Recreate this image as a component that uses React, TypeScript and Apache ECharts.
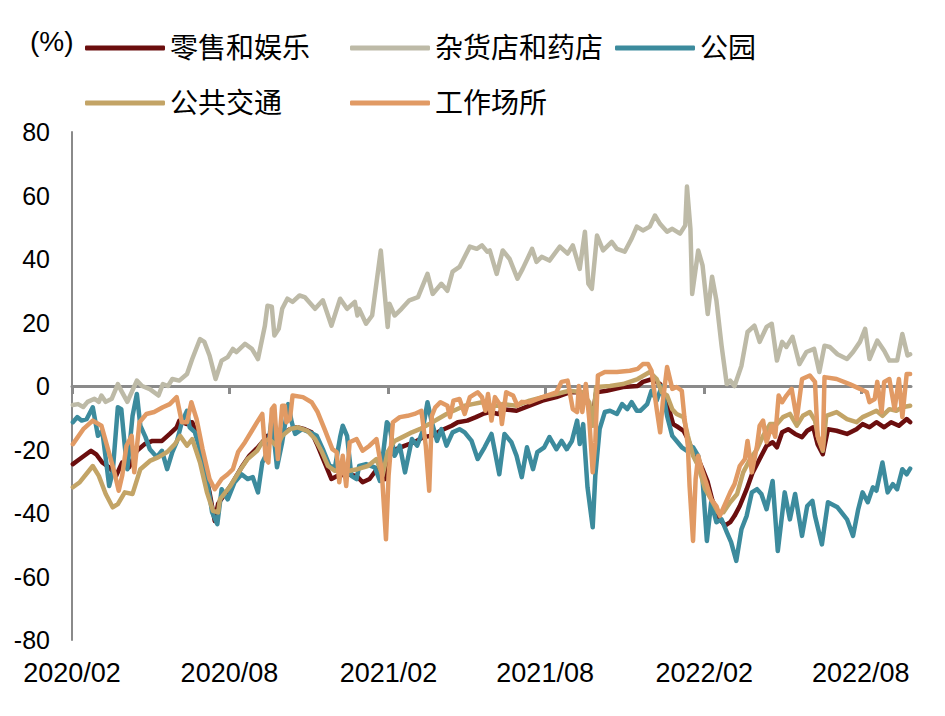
import { useEffect, useRef } from 'react';
import * as echarts from 'echarts';

const seriesNames = ['零售和娱乐', '杂货店和药店', '公园', '公共交通', '工作场所'];
const seriesColors = ['#6B0E0E', '#BDBAA7', '#3C8B9D', '#C3A466', '#E19A64'];
const xTickDates = ['2020-02-15', '2020-08-15', '2021-02-15', '2021-08-15', '2022-02-15', '2022-08-15'];
const xMin = '2020-02-15';
const xMax = '2022-10-12';
const yMin = -80;
const yMax = 80;
const yStep = 20;

const retail: [string, number][] = [
  ['2020-02-16', -24.6], ['2020-02-24', -23], ['2020-03-08', -20.4], ['2020-03-14', -21.5], ['2020-03-21', -24.1],
  ['2020-03-29', -25.6], ['2020-04-06', -28.3], ['2020-04-13', -24.1], ['2020-04-21', -25.6], ['2020-04-30', -20.4],
  ['2020-05-09', -18.3], ['2020-05-18', -17.3], ['2020-05-29', -17.3], ['2020-06-07', -15.1], ['2020-06-15', -13],
  ['2020-06-18', -11], ['2020-06-27', -12], ['2020-07-03', -11.4], ['2020-07-09', -15.7], ['2020-07-15', -24.1],
  ['2020-07-23', -33.5], ['2020-07-29', -42.5], ['2020-08-02', -37], ['2020-08-10', -34], ['2020-08-19', -30.3],
  ['2020-08-29', -25.6], ['2020-09-07', -22], ['2020-09-17', -19.3], ['2020-09-22', -17.7], ['2020-09-28', -15.7],
  ['2020-10-06', -16.7], ['2020-10-15', -15.1], ['2020-10-24', -13.6], ['2020-11-01', -13], ['2020-11-10', -13.6],
  ['2020-11-18', -14.6], ['2020-11-25', -18.8], ['2020-12-03', -24.1], ['2020-12-11', -29.3], ['2020-12-18', -28.3],
  ['2020-12-29', -27.8], ['2021-01-09', -28.3], ['2021-01-16', -30.3], ['2021-01-24', -29.3], ['2021-02-03', -25.6],
  ['2021-02-11', -29.3], ['2021-02-16', -22], ['2021-02-24', -19.9], ['2021-03-06', -18.8], ['2021-03-17', -17.7],
  ['2021-03-27', -16.1], ['2021-04-06', -15.7], ['2021-04-16', -14.1], ['2021-04-29', -12.5], ['2021-05-06', -11.4],
  ['2021-05-17', -10.9], ['2021-05-27', -9.8], ['2021-06-04', -8.8], ['2021-06-12', -8.2], ['2021-06-22', -8.8],
  ['2021-06-27', -7.3], ['2021-07-13', -7.8], ['2021-07-28', -6.2], ['2021-08-12', -4.6], ['2021-08-28', -3.5],
  ['2021-09-12', -2], ['2021-09-21', -2], ['2021-09-27', -3], ['2021-10-05', -6.2], ['2021-10-09', -9.4],
  ['2021-10-13', -2], ['2021-10-25', -1.5], ['2021-11-13', -0.3], ['2021-11-30', 0], ['2021-12-06', 1.3],
  ['2021-12-17', 2.2], ['2021-12-26', 0.6], ['2022-01-03', -5.1], ['2022-01-10', -12], ['2022-01-16', -13],
  ['2022-01-22', -14.1], ['2022-01-27', -16.7], ['2022-02-02', -20.8], ['2022-02-08', -23], ['2022-02-13', -26.2],
  ['2022-02-19', -30.3], ['2022-02-24', -35.7], ['2022-03-05', -42], ['2022-03-11', -44], ['2022-03-17', -42.9],
  ['2022-03-22', -40.9], ['2022-03-28', -37.8], ['2022-04-05', -32.5], ['2022-04-12', -27.2], ['2022-04-20', -23],
  ['2022-04-28', -18.8], ['2022-05-05', -17.7], ['2022-05-10', -19.3], ['2022-05-16', -14.6], ['2022-05-23', -13.6],
  ['2022-05-31', -15.1], ['2022-06-08', -16.1], ['2022-06-14', -14.1], ['2022-06-21', -13], ['2022-06-26', -18.3],
  ['2022-07-02', -21.5], ['2022-07-08', -13.6], ['2022-07-18', -14.1], ['2022-07-30', -15.1], ['2022-08-10', -13.6],
  ['2022-08-17', -12], ['2022-08-25', -13], ['2022-09-02', -11.4], ['2022-09-11', -13], ['2022-09-19', -11.4],
  ['2022-09-28', -12.5], ['2022-10-07', -10.4], ['2022-10-11', -11.4],
];

const grocery: [string, number][] = [
  ['2020-02-16', -6], ['2020-02-22', -5.7], ['2020-02-28', -6.6], ['2020-03-04', -5], ['2020-03-12', -4],
  ['2020-03-17', -5], ['2020-03-20', -3], ['2020-03-25', -5], ['2020-04-01', -4], ['2020-04-08', 0.6],
  ['2020-04-13', -2], ['2020-04-19', -5], ['2020-04-30', 1.7], ['2020-05-06', 0], ['2020-05-15', -1],
  ['2020-05-25', -3], ['2020-05-30', 0.6], ['2020-06-05', 0], ['2020-06-10', 2.2], ['2020-06-18', 1.7],
  ['2020-06-27', 3.8], ['2020-07-03', 8.5], ['2020-07-12', 14.8], ['2020-07-17', 13.9], ['2020-07-23', 9.6],
  ['2020-07-30', 2.2], ['2020-08-06', 8], ['2020-08-13', 9.1], ['2020-08-19', 11.7], ['2020-08-23', 10.7],
  ['2020-09-02', 13.3], ['2020-09-10', 11.7], ['2020-09-17', 8.5], ['2020-09-25', 19], ['2020-09-28', 25.3],
  ['2020-10-03', 25], ['2020-10-06', 15.9], ['2020-10-11', 18], ['2020-10-15', 24.3], ['2020-10-21', 27.5],
  ['2020-10-27', 26.5], ['2020-11-04', 28.5], ['2020-11-10', 28], ['2020-11-22', 24.3], ['2020-12-01', 27],
  ['2020-12-11', 19], ['2020-12-21', 27.5], ['2020-12-29', 24.3], ['2021-01-07', 26.5], ['2021-01-10', 22.2],
  ['2021-01-12', 24.3], ['2021-01-20', 19.6], ['2021-01-27', 22.2], ['2021-02-06', 42.7], ['2021-02-14', 18.6],
  ['2021-02-16', 25.9], ['2021-02-22', 22.2], ['2021-03-02', 24.3], ['2021-03-11', 27], ['2021-03-21', 28],
  ['2021-04-01', 35.3], ['2021-04-07', 29], ['2021-04-17', 32.2], ['2021-04-24', 30], ['2021-04-30', 36],
  ['2021-05-08', 37.5], ['2021-05-20', 43.9], ['2021-05-28', 43.2], ['2021-06-03', 44.3], ['2021-06-09', 42.3],
  ['2021-06-12', 42.7], ['2021-06-20', 35.3], ['2021-06-27', 42.7], ['2021-07-05', 40], ['2021-07-14', 33.8],
  ['2021-07-20', 36.9], ['2021-07-31', 43.2], ['2021-08-05', 39.1], ['2021-08-11', 40.7], ['2021-08-20', 39.5],
  ['2021-09-01', 43.9], ['2021-09-10', 41.7], ['2021-09-16', 44.3], ['2021-09-24', 36.9], ['2021-09-30', 48.6],
  ['2021-10-04', 32.2], ['2021-10-08', 30.6], ['2021-10-14', 47.4], ['2021-10-21', 42.7], ['2021-10-31', 45.4],
  ['2021-11-06', 43.2], ['2021-11-15', 42.3], ['2021-11-23', 46.4], ['2021-11-29', 50.2], ['2021-12-06', 49],
  ['2021-12-14', 50.2], ['2021-12-20', 53.7], ['2021-12-26', 51], ['2022-01-03', 48.6], ['2022-01-09', 49.5],
  ['2022-01-18', 48], ['2022-01-24', 50.6], ['2022-01-26', 62.8], ['2022-01-30', 49.5], ['2022-02-01', 29],
  ['2022-02-08', 42.7], ['2022-02-13', 38], ['2022-02-19', 22.7], ['2022-02-24', 34.4], ['2022-03-01', 27],
  ['2022-03-07', 12.7], ['2022-03-13', 0.6], ['2022-03-17', 1.7], ['2022-03-22', 0], ['2022-03-30', 6.4],
  ['2022-04-06', 17], ['2022-04-14', 19], ['2022-04-20', 13.9], ['2022-04-28', 18.6], ['2022-05-04', 19.6],
  ['2022-05-10', 8], ['2022-05-16', 13.9], ['2022-05-21', 12.3], ['2022-05-28', 15.5], ['2022-06-05', 6.9],
  ['2022-06-13', 10.7], ['2022-06-22', 11.7], ['2022-06-28', 4.4], ['2022-07-04', 12.7], ['2022-07-10', 12.3],
  ['2022-07-19', 10], ['2022-07-30', 8.5], ['2022-08-06', 10.7], ['2022-08-14', 13.9], ['2022-08-20', 18],
  ['2022-08-25', 8.5], ['2022-09-03', 14.3], ['2022-09-11', 11.1], ['2022-09-17', 8], ['2022-09-26', 8],
  ['2022-10-02', 16.4], ['2022-10-08', 9.6], ['2022-10-11', 10],
];

const parks: [string, number][] = [
  ['2020-02-16', -11.4], ['2020-02-21', -9.8], ['2020-02-26', -10.9], ['2020-03-03', -10.4], ['2020-03-10', -6.7],
  ['2020-03-16', -15.7], ['2020-03-21', -14.1], ['2020-03-29', -31.5], ['2020-04-02', -27.2], ['2020-04-08', -6.7],
  ['2020-04-12', -7.3], ['2020-04-16', -18.8], ['2020-04-19', -26.2], ['2020-04-25', -9.4], ['2020-04-30', -2.5],
  ['2020-05-04', -12.5], ['2020-05-10', -16.1], ['2020-05-15', -19.9], ['2020-05-23', -22.4], ['2020-05-29', -20.4],
  ['2020-06-04', -26.2], ['2020-06-10', -20.8], ['2020-06-15', -17.7], ['2020-06-21', -11.4], ['2020-06-27', -7.8],
  ['2020-06-30', -13], ['2020-07-06', -14.5], ['2020-07-14', -22], ['2020-07-20', -29.3], ['2020-07-26', -39.8],
  ['2020-08-01', -43.5], ['2020-08-06', -32.5], ['2020-08-13', -35.7], ['2020-08-21', -30.3], ['2020-08-29', -27.8],
  ['2020-09-05', -29.3], ['2020-09-11', -28.7], ['2020-09-17', -33.5], ['2020-09-22', -24.1], ['2020-09-28', -20.8],
  ['2020-10-03', -9.9], ['2020-10-09', -25.6], ['2020-10-15', -17.7], ['2020-10-22', -5.7], ['2020-10-26', -11.4],
  ['2020-10-30', -15.1], ['2020-11-07', -13.6], ['2020-11-16', -14.6], ['2020-11-24', -15.7], ['2020-12-01', -19.9],
  ['2020-12-09', -25.2], ['2020-12-15', -25.6], ['2020-12-21', -16.1], ['2020-12-24', -12.5], ['2020-12-29', -15.7],
  ['2021-01-03', -28.3], ['2021-01-09', -29.3], ['2021-01-12', -25.2], ['2021-01-20', -24.6], ['2021-01-30', -25.6],
  ['2021-02-05', -29.9], ['2021-02-13', -11.4], ['2021-02-16', -12.5], ['2021-02-22', -22], ['2021-02-28', -18.8],
  ['2021-03-06', -27.2], ['2021-03-14', -16.7], ['2021-03-20', -18.8], ['2021-03-26', -14.5], ['2021-04-01', -5.1],
  ['2021-04-06', -11.4], ['2021-04-12', -17.3], ['2021-04-17', -13.6], ['2021-04-23', -18.8], ['2021-04-30', -14.6],
  ['2021-05-08', -13.6], ['2021-05-14', -14.6], ['2021-05-22', -17.3], ['2021-05-29', -23], ['2021-06-06', -19.3],
  ['2021-06-14', -15.1], ['2021-06-23', -27.8], ['2021-06-29', -15.1], ['2021-07-07', -17.7], ['2021-07-13', -22],
  ['2021-07-19', -28.7], ['2021-07-25', -19.3], ['2021-08-01', -26.2], ['2021-08-06', -20.8], ['2021-08-14', -19.3],
  ['2021-08-20', -16.1], ['2021-08-28', -19.9], ['2021-09-03', -17.3], ['2021-09-09', -19.9], ['2021-09-15', -17.3],
  ['2021-09-21', -10.9], ['2021-09-24', -18.3], ['2021-09-28', -12], ['2021-10-03', -31.9], ['2021-10-09', -44.5],
  ['2021-10-12', -28.3], ['2021-10-17', -13.6], ['2021-10-23', -8.2], ['2021-10-29', -7.8], ['2021-11-06', -8.8],
  ['2021-11-12', -5.7], ['2021-11-18', -7.3], ['2021-11-23', -5.1], ['2021-11-29', -7.8], ['2021-12-03', -7.8],
  ['2021-12-11', -5.7], ['2021-12-16', -1.5], ['2021-12-22', -4.6], ['2021-12-28', 0], ['2022-01-03', -9.4],
  ['2022-01-09', -15.7], ['2022-01-14', -17.3], ['2022-01-20', -19.3], ['2022-01-26', -20.4], ['2022-02-02', -19.3],
  ['2022-02-08', -22], ['2022-02-13', -29.3], ['2022-02-18', -48.8], ['2022-02-23', -36.6], ['2022-03-01', -42.9],
  ['2022-03-07', -42], ['2022-03-13', -46], ['2022-03-18', -49.2], ['2022-03-24', -55.1], ['2022-03-30', -45.1],
  ['2022-04-05', -40.9], ['2022-04-11', -33.5], ['2022-04-17', -32.5], ['2022-04-22', -34], ['2022-04-28', -38.8],
  ['2022-05-05', -29.9], ['2022-05-11', -52], ['2022-05-19', -33.5], ['2022-05-25', -42], ['2022-05-31', -34],
  ['2022-06-08', -47.2], ['2022-06-14', -37.8], ['2022-06-20', -36.2], ['2022-06-23', -40.9], ['2022-07-01', -49.9],
  ['2022-07-08', -36.6], ['2022-07-19', -38.2], ['2022-07-30', -42], ['2022-08-06', -47.2], ['2022-08-12', -38.8],
  ['2022-08-17', -33.5], ['2022-08-23', -36.6], ['2022-08-29', -31.9], ['2022-09-02', -33], ['2022-09-09', -24.1],
  ['2022-09-15', -33.5], ['2022-09-21', -30.9], ['2022-09-26', -32.5], ['2022-10-02', -26.2], ['2022-10-07', -27.8],
  ['2022-10-11', -26],
];

const transit: [string, number][] = [
  ['2020-02-16', -31.9], ['2020-02-24', -30.3], ['2020-03-10', -25.2], ['2020-03-17', -28.3], ['2020-03-25', -34],
  ['2020-04-02', -38.2], ['2020-04-08', -37.2], ['2020-04-16', -33.5], ['2020-04-25', -34], ['2020-05-04', -26.2],
  ['2020-05-15', -23.6], ['2020-05-25', -22.4], ['2020-06-04', -20.8], ['2020-06-13', -18.3], ['2020-06-19', -15.7],
  ['2020-06-27', -18.8], ['2020-07-03', -16.7], ['2020-07-12', -24.1], ['2020-07-20', -33.5], ['2020-07-27', -39.3],
  ['2020-08-02', -39.8], ['2020-08-04', -35.7], ['2020-08-16', -31.5], ['2020-08-28', -26.2], ['2020-09-05', -23],
  ['2020-09-16', -20.4], ['2020-09-22', -17.7], ['2020-09-30', -16.7], ['2020-10-09', -19], ['2020-10-15', -15.7],
  ['2020-10-24', -13.6], ['2020-11-02', -13], ['2020-11-13', -14.1], ['2020-11-22', -16.7], ['2020-11-30', -20.8],
  ['2020-12-07', -25.2], ['2020-12-15', -26.7], ['2020-12-24', -26.2], ['2021-01-01', -26.7], ['2021-01-10', -26.2],
  ['2021-01-22', -25.2], ['2021-02-01', -23], ['2021-02-08', -28.3], ['2021-02-14', -20.8], ['2021-02-22', -17.3],
  ['2021-03-03', -16.1], ['2021-03-14', -14.6], ['2021-03-23', -13.6], ['2021-04-03', -12], ['2021-04-13', -10.4],
  ['2021-04-23', -8.8], ['2021-05-05', -7.3], ['2021-05-14', -6.2], ['2021-05-23', -5.7], ['2021-06-03', -5.1],
  ['2021-06-12', -6.2], ['2021-06-22', -6.2], ['2021-06-27', -5.7], ['2021-07-13', -6.2], ['2021-07-28', -4.6],
  ['2021-08-12', -3.5], ['2021-08-28', -2.5], ['2021-09-12', -1.5], ['2021-09-27', -2], ['2021-10-05', -5.1],
  ['2021-10-09', -12.5], ['2021-10-13', -0.3], ['2021-10-29', 0], ['2021-11-13', 0.6], ['2021-11-30', 2.2],
  ['2021-12-14', 4.4], ['2021-12-22', 2.2], ['2021-12-28', -2], ['2022-01-03', -3], ['2022-01-09', -7.3],
  ['2022-01-14', -8.8], ['2022-01-22', -9.8], ['2022-01-27', -15.7], ['2022-02-02', -22], ['2022-02-08', -25.2],
  ['2022-02-16', -32.5], ['2022-02-23', -35.7], ['2022-03-03', -39.8], ['2022-03-09', -39.8], ['2022-03-17', -36.6],
  ['2022-03-25', -34], ['2022-04-01', -27.2], ['2022-04-09', -23], ['2022-04-17', -19.9], ['2022-04-24', -15.7],
  ['2022-05-02', -12], ['2022-05-10', -12], ['2022-05-17', -9.8], ['2022-05-25', -8.8], ['2022-06-02', -12.5],
  ['2022-06-09', -9.4], ['2022-06-17', -8.2], ['2022-06-23', -10.9], ['2022-06-27', -16.7], ['2022-07-02', -20.4],
  ['2022-07-06', -9.4], ['2022-07-18', -8.2], ['2022-07-30', -10.4], ['2022-08-10', -11.4], ['2022-08-17', -9.8],
  ['2022-08-25', -8.8], ['2022-09-02', -7.8], ['2022-09-09', -9.4], ['2022-09-17', -7.3], ['2022-09-25', -7.8],
  ['2022-10-02', -6.7], ['2022-10-11', -6.2],
];

const workplace: [string, number][] = [
  ['2020-02-16', -18.3], ['2020-02-28', -13.6], ['2020-03-10', -10.9], ['2020-03-20', -12.5], ['2020-03-27', -19.3],
  ['2020-04-04', -27.2], ['2020-04-09', -33], ['2020-04-13', -28.3], ['2020-04-18', -18.8], ['2020-04-24', -15.7],
  ['2020-04-27', -27.2], ['2020-05-03', -11.4], ['2020-05-11', -8.8], ['2020-05-20', -8.2], ['2020-05-30', -6.7],
  ['2020-06-07', -5.7], ['2020-06-15', -3.5], ['2020-06-21', -11.4], ['2020-06-27', -11.4], ['2020-07-02', -5.1],
  ['2020-07-08', -10.4], ['2020-07-15', -19.9], ['2020-07-23', -29.3], ['2020-07-29', -32.5], ['2020-08-06', -29.3],
  ['2020-08-13', -27.8], ['2020-08-19', -26.2], ['2020-08-25', -20.8], ['2020-09-02', -17.7], ['2020-09-10', -14.1],
  ['2020-09-16', -11.4], ['2020-09-22', -8.8], ['2020-09-26', -23], ['2020-09-29', -24.1], ['2020-10-03', -7.3],
  ['2020-10-06', -6.2], ['2020-10-10', -23], ['2020-10-15', -6.2], ['2020-10-18', -6.2], ['2020-10-20', -11.4],
  ['2020-10-24', -10.4], ['2020-10-27', -3], ['2020-11-08', -3.5], ['2020-11-18', -5.1], ['2020-11-25', -8.2],
  ['2020-12-03', -13.6], ['2020-12-12', -19.9], ['2020-12-17', -20.8], ['2020-12-20', -30.3], ['2020-12-24', -22],
  ['2020-12-28', -31.5], ['2021-01-01', -17.7], ['2021-01-09', -16.7], ['2021-01-16', -20.4], ['2021-01-24', -18.8],
  ['2021-02-01', -16.7], ['2021-02-07', -26.2], ['2021-02-12', -48.3], ['2021-02-15', -28.3], ['2021-02-20', -11.4],
  ['2021-02-28', -9.8], ['2021-03-09', -9.4], ['2021-03-17', -8.8], ['2021-03-25', -7.8], ['2021-03-30', -18.8],
  ['2021-04-03', -33], ['2021-04-06', -9.4], ['2021-04-10', -6.7], ['2021-04-16', -5.1], ['2021-04-24', -6.2],
  ['2021-04-27', -9.8], ['2021-05-01', -4.6], ['2021-05-08', -4.1], ['2021-05-14', -8.8], ['2021-05-20', -3.5],
  ['2021-05-26', -2.5], ['2021-05-29', -2], ['2021-06-03', -3.5], ['2021-06-07', -7.8], ['2021-06-10', -2.5],
  ['2021-06-14', -10.9], ['2021-06-18', -3.5], ['2021-06-24', -6], ['2021-06-26', -12], ['2021-07-01', -2],
  ['2021-07-09', -3], ['2021-07-14', -6.2], ['2021-07-19', -5], ['2021-07-28', -5.1], ['2021-08-12', -3.5],
  ['2021-08-28', -2], ['2021-09-03', 1.3], ['2021-09-10', 1.7], ['2021-09-16', -7.3], ['2021-09-21', -8.2],
  ['2021-09-23', 0], ['2021-09-27', -8.2], ['2021-10-01', 0.6], ['2021-10-05', -10.4], ['2021-10-09', -27.2],
  ['2021-10-12', -17.7], ['2021-10-15', 3.3], ['2021-10-23', 4.4], ['2021-11-06', 4.4], ['2021-11-21', 4.8],
  ['2021-11-30', 5.4], ['2021-12-06', 6.9], ['2021-12-12', 6.9], ['2021-12-16', 4.8], ['2021-12-22', -7.3],
  ['2021-12-26', -14.6], ['2021-12-29', -5.1], ['2022-01-03', 6], ['2022-01-09', -0.9], ['2022-01-14', -0.3],
  ['2022-01-20', -1.5], ['2022-01-23', -9.8], ['2022-01-27', -18.8], ['2022-01-29', -31.5], ['2022-02-02', -48.8],
  ['2022-02-05', -29.3], ['2022-02-08', -22], ['2022-02-12', -26.2], ['2022-02-17', -30.3], ['2022-02-23', -35.7],
  ['2022-03-01', -37.8], ['2022-03-05', -40.9], ['2022-03-11', -37.2], ['2022-03-17', -33.5], ['2022-03-22', -30.9],
  ['2022-03-28', -25.2], ['2022-04-03', -23], ['2022-04-06', -17.3], ['2022-04-11', -27.2], ['2022-04-17', -18.8],
  ['2022-04-20', -12.5], ['2022-04-24', -10.9], ['2022-04-28', -17.7], ['2022-05-04', -12.5], ['2022-05-08', -16],
  ['2022-05-12', -3], ['2022-05-16', -5.1], ['2022-05-21', -3], ['2022-05-27', -0.9], ['2022-06-02', -10.4],
  ['2022-06-08', 2.2], ['2022-06-17', 3.3], ['2022-06-23', 1.3], ['2022-06-26', -15.7], ['2022-07-02', -19.9],
  ['2022-07-04', 2.8], ['2022-07-18', 2.2], ['2022-08-02', 0.6], ['2022-08-14', -0.9], ['2022-08-22', -2],
  ['2022-08-25', -5.1], ['2022-08-31', -4.1], ['2022-09-03', 1.3], ['2022-09-08', -8.2], ['2022-09-11', 1.3],
  ['2022-09-17', 2.2], ['2022-09-23', -7.3], ['2022-09-28', 2.2], ['2022-10-02', -9.8], ['2022-10-07', 3.8],
  ['2022-10-11', 3.8],
];

const seriesData = [retail, grocery, parks, transit, workplace];
const legendLeft = [85, 350, 615, 85, 350];
const legendTop = [34, 34, 34, 89, 89];

const FONT = "'Liberation Sans', Arial, 'Noto Sans CJK SC', sans-serif";

const toTime = (d: string) => +echarts.time.parse(d);

export default function App() {
  const ref = useRef<HTMLDivElement>(null);

  useEffect(() => {
    if (!ref.current) return;
    const chart = echarts.init(ref.current, null, { renderer: 'svg' });
    const tickValues = xTickDates.map(toTime);
    const minT = toTime(xMin);
    const maxT = toTime(xMax);
    const fmt = (v: number) => echarts.time.format(v, '{yyyy}/{MM}', false);

    const option: any = {
      animation: false,
      backgroundColor: '#ffffff',
      textStyle: { fontFamily: FONT },
      grid: { left: 72, right: 34, top: 132, bottom: 76, outerBoundsMode: 'none' },
      legend: seriesNames.map((name, i) => ({
        data: [name],
        left: legendLeft[i],
        top: legendTop[i],
        padding: 0,
        itemWidth: 80,
        itemHeight: 5,
        icon: 'roundRect',
        selectedMode: false,
        textStyle: { fontSize: 28, color: '#000', fontFamily: FONT },
      })),
      graphic: [
        {
          type: 'text',
          left: 30,
          top: 27,
          style: { text: '(%)', fontSize: 28, fill: '#000', fontFamily: FONT },
        },
      ],
      xAxis: [
        {
          type: 'value',
          min: minT,
          max: maxT,
          axisLine: { show: true, onZero: true, lineStyle: { color: '#8A8A8A', width: 3 } },
          axisTick: {
            show: true,
            customValues: tickValues,
            length: 8,
            lineStyle: { color: '#8A8A8A', width: 3 },
          },
          axisLabel: { show: false },
          splitLine: { show: false },
        },
        {
          type: 'value',
          min: minT,
          max: maxT,
          position: 'bottom',
          axisLine: { show: false, onZero: false },
          axisTick: { show: false },
          splitLine: { show: false },
          axisLabel: {
            show: true,
            customValues: tickValues,
            formatter: fmt,
            fontSize: 27,
            color: '#000',
            margin: 19,
            fontFamily: FONT,
          },
        },
      ],
      yAxis: {
        type: 'value',
        min: yMin,
        max: yMax,
        interval: yStep,
        axisLine: { show: true, lineStyle: { color: '#8A8A8A', width: 2 } },
        axisTick: { show: false },
        splitLine: { show: false },
        axisLabel: { fontSize: 25, color: '#000', margin: 22, fontFamily: FONT },
      },
      series: seriesNames.map((name, i) => ({
        name,
        type: 'line',
        xAxisIndex: 0,
        data: seriesData[i].map(([d, v]) => [toTime(d), v]),
        showSymbol: false,
        symbol: 'none',
        color: seriesColors[i],
        lineStyle: { width: 4.5, color: seriesColors[i], cap: 'round', join: 'round' },
        emphasis: { disabled: true },
        z: 2 + i,
      })),
    };
    chart.setOption(option);
    return () => chart.dispose();
  }, []);

  return (
    <div
      ref={ref}
      style={{ position: 'absolute', left: 0, top: 0, width: 945, height: 716 }}
    />
  );
}
